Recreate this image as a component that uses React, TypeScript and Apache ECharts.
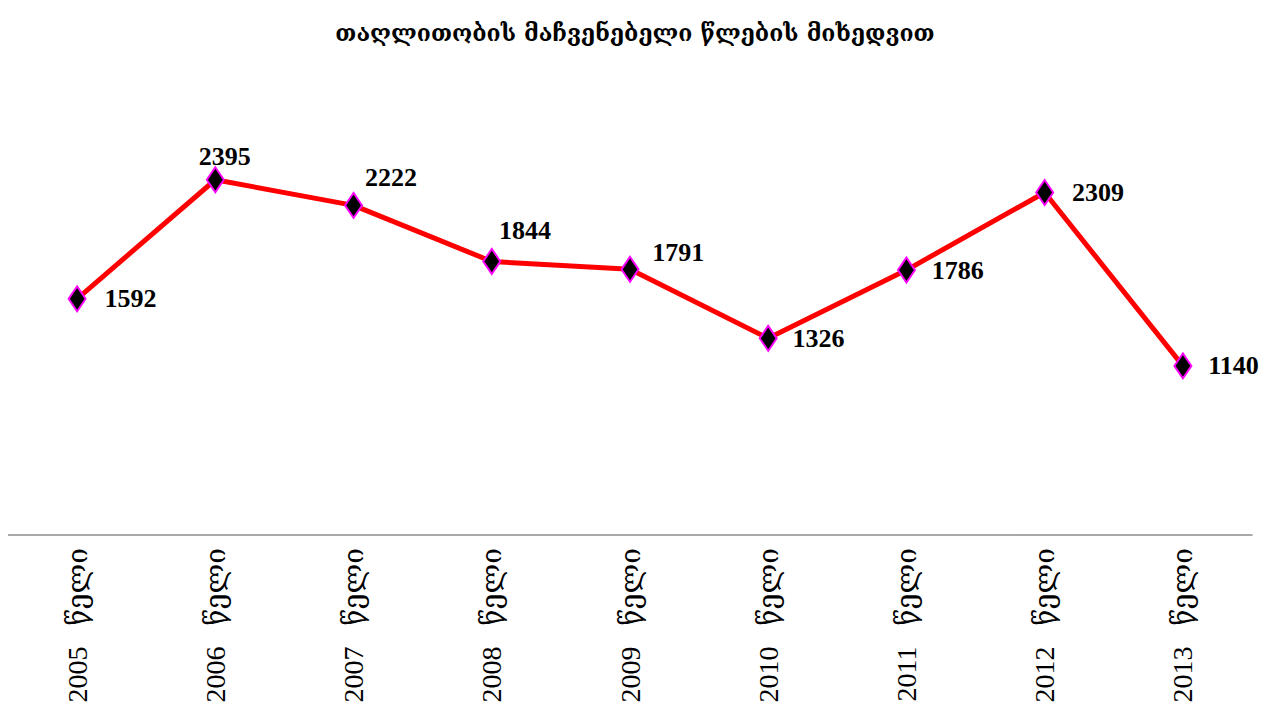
import React, { useEffect, useRef } from "react";
import * as echarts from "echarts";

const titleText = "თაღლითობის მაჩვენებელი წლების მიხედვით";
const categories = [
  "2005 წელი",
  "2006 წელი",
  "2007 წელი",
  "2008 წელი",
  "2009 წელი",
  "2010 წელი",
  "2011 წელი",
  "2012 წელი",
  "2013 წელი",
];
const values = [1592, 2395, 2222, 1844, 1791, 1326, 1786, 2309, 1140];
// label offsets relative to point (dx from point centre to label left edge, dy of label centre)
const labelOffsets: [number, number][] = [
  [26, 0],
  [-18, -23],
  [10, -28],
  [6, -31],
  [21, -17],
  [23, 0],
  [24, 0],
  [26, 0],
  [24, 0],
];

export default function App() {
  const ref = useRef<HTMLDivElement>(null);
  useEffect(() => {
    if (!ref.current) return;
    const chart = echarts.init(ref.current, null, { renderer: "svg" });
    const halfW = 8;
    chart.setOption({
      animation: false,
      backgroundColor: "#ffffff",
      title: {
        text: titleText,
        left: "center",
        top: 8,
        textStyle: {
          fontFamily: "DejaVu Serif, serif",
          fontSize: 23,
          fontWeight: "bold",
          color: "#000",
        },
      },
      grid: { left: 0, right: 10, top: 82, bottom: 174 },
      xAxis: {
        type: "category",
        data: categories,
        boundaryGap: true,
        axisLine: { show: true, lineStyle: { color: "#8c8c8c", width: 1.5 } },
        axisTick: { show: false },
        axisLabel: {
          rotate: 90,
          margin: 13,
          fontFamily: "Liberation Serif, DejaVu Serif, serif",
          fontSize: 28,
          color: "#000",
          formatter: (v: string) => v.replace(" ", "\u00a0\u00a0\u00a0"),
        },
      },
      yAxis: {
        type: "value",
        min: 0,
        max: 3000,
        show: false,
        splitLine: { show: false },
      },
      series: [
        {
          type: "line",
          data: values.map((v, i) => ({
            value: v,
            label: {
              offset: [labelOffsets[i][0] - halfW, labelOffsets[i][1]],
            },
          })),
          lineStyle: { color: "#ff0000", width: 5 },
          symbol: "diamond",
          symbolSize: [17, 25],
          itemStyle: { color: "#000000", borderColor: "#ff00ff", borderWidth: 2 },
          label: {
            show: true,
            position: "right",
            distance: 0,
            fontFamily: "Liberation Serif, serif",
            fontWeight: "bold",
            fontSize: 26,
            color: "#000",
          },
        },
      ],
    });
    return () => chart.dispose();
  }, []);
  return <div ref={ref} style={{ width: 1254, height: 701 }} />;
}
